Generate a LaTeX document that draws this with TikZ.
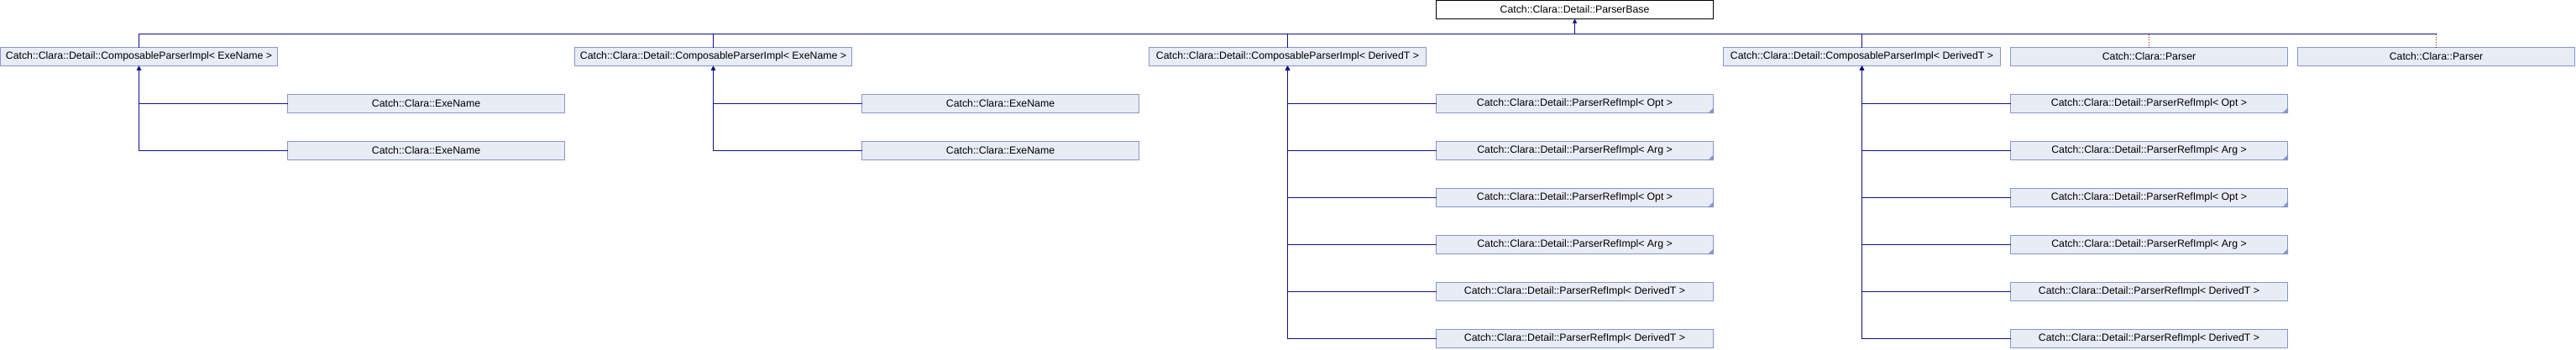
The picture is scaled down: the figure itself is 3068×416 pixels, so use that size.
\documentclass[tikz,border=0pt]{standalone}
\usepackage{fontspec}
\setmainfont{Liberation Sans}
\usetikzlibrary{arrows.meta}
\definecolor{boxfill}{RGB}{232,236,245}
\definecolor{boxline}{RGB}{132,150,207}
\definecolor{conn}{RGB}{16,16,140}
\definecolor{tmpl}{RGB}{139,0,0}
\newcommand\foldcorner[1]{\fill[boxline] ([shift={(0.5,0.5)}]#1.south east) -- ++(0,-7) -- ++(-7,7) -- cycle;}
\begin{document}
\begin{tikzpicture}[x=1pt,y=-1pt,
  cls/.style={draw=boxline, fill=boxfill, line width=1pt, minimum width=330pt, minimum height=22pt,
    inner sep=0pt, outer sep=0pt, font=\fontsize{12.3}{14}\selectfont, text=black},
  basecls/.style={cls, draw=black, fill=white},
  link/.style={draw=conn, line width=1.1pt},
  inh/.style={link, {Triangle[length=5pt,width=5pt]}-},
  tmplink/.style={draw=tmpl, line width=1.1pt, dash pattern=on 1.5pt off 1.5pt}]
\useasboundingbox (0,0) rectangle (3068,416);
% base
\node[basecls] (pb) at (1875.5,11.5) {Catch::Clara::Detail::ParserBase};
% row 1
\node[cls] (A) at (165.5,67.5) {Catch::Clara::Detail::ComposableParserImpl< ExeName >};
\node[cls] (B) at (849.5,67.5) {Catch::Clara::Detail::ComposableParserImpl< ExeName >};
\node[cls] (C) at (1533.5,67.5) {Catch::Clara::Detail::ComposableParserImpl< DerivedT >};
\node[cls] (D) at (2217.5,67.5) {Catch::Clara::Detail::ComposableParserImpl< DerivedT >};
\node[cls] (E) at (2559.5,67.5) {Catch::Clara::Parser};
\node[cls] (F) at (2901.5,67.5) {Catch::Clara::Parser};
% children of A and B
\node[cls] (a1) at (507.5,123.5) {Catch::Clara::ExeName};
\node[cls] (a2) at (507.5,179.5) {Catch::Clara::ExeName};
\node[cls] (b1) at (1191.5,123.5) {Catch::Clara::ExeName};
\node[cls] (b2) at (1191.5,179.5) {Catch::Clara::ExeName};
% children of C
\node[cls] (c1) at (1875.5,123.5) {Catch::Clara::Detail::ParserRefImpl< Opt >};
\node[cls] (c2) at (1875.5,179.5) {Catch::Clara::Detail::ParserRefImpl< Arg >};
\node[cls] (c3) at (1875.5,235.5) {Catch::Clara::Detail::ParserRefImpl< Opt >};
\node[cls] (c4) at (1875.5,291.5) {Catch::Clara::Detail::ParserRefImpl< Arg >};
\node[cls] (c5) at (1875.5,347.5) {Catch::Clara::Detail::ParserRefImpl< DerivedT >};
\node[cls] (c6) at (1875.5,403.5) {Catch::Clara::Detail::ParserRefImpl< DerivedT >};
% children of D
\node[cls] (d1) at (2559.5,123.5) {Catch::Clara::Detail::ParserRefImpl< Opt >};
\node[cls] (d2) at (2559.5,179.5) {Catch::Clara::Detail::ParserRefImpl< Arg >};
\node[cls] (d3) at (2559.5,235.5) {Catch::Clara::Detail::ParserRefImpl< Opt >};
\node[cls] (d4) at (2559.5,291.5) {Catch::Clara::Detail::ParserRefImpl< Arg >};
\node[cls] (d5) at (2559.5,347.5) {Catch::Clara::Detail::ParserRefImpl< DerivedT >};
\node[cls] (d6) at (2559.5,403.5) {Catch::Clara::Detail::ParserRefImpl< DerivedT >};
% folded corners
\foreach \n in {c1,c2,c3,c4,d1,d2,d3,d4}{\foldcorner{\n}}
% bus to base
\coordinate (bus) at (1875.5,40.5);
\draw[inh] (pb.south) -- (bus);
\draw[link] (A.north) |- (bus);
\draw[link] (B.north) |- (bus);
\draw[link] (C.north) |- (bus);
\draw[link] (D.north) |- (bus);
\draw[link] (bus) -- (F.north |- bus);
\draw[tmplink] (E.north |- bus) -- (E.north);
\draw[tmplink] (F.north |- bus) -- (F.north);
% child links
\foreach \p/\k in {A/a1,A/a2,B/b1,B/b2,C/c1,C/c2,C/c3,C/c4,C/c5,C/c6,D/d1,D/d2,D/d3,D/d4,D/d5,D/d6}{
  \draw[inh] (\p.south) |- (\k.west);
}
\end{tikzpicture}
\end{document}
